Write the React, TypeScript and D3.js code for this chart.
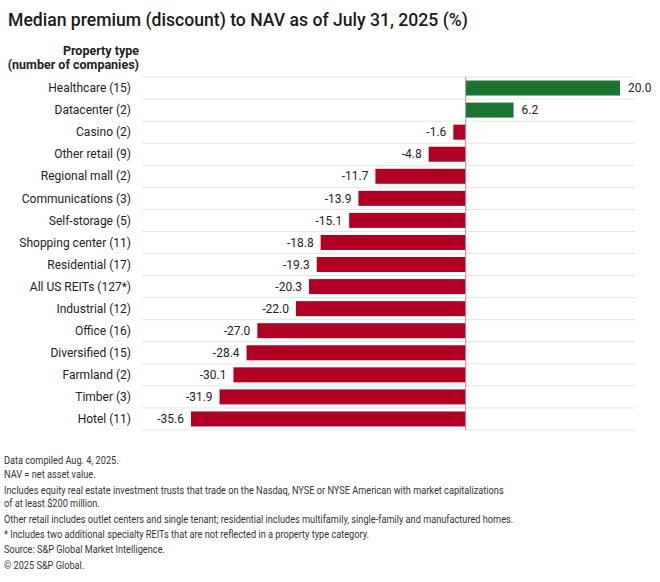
import * as d3 from 'd3';

const categories = [
  'Healthcare (15)', 'Datacenter (2)', 'Casino (2)', 'Other retail (9)', 'Regional mall (2)',
  'Communications (3)', 'Self-storage (5)', 'Shopping center (11)', 'Residential (17)',
  'All US REITs (127*)', 'Industrial (12)', 'Office (16)', 'Diversified (15)', 'Farmland (2)',
  'Timber (3)', 'Hotel (11)',
];
const values = [20.0, 6.2, -1.6, -4.8, -11.7, -13.9, -15.1, -18.8, -19.3, -20.3, -22.0, -27.0, -28.4, -30.1, -31.9, -35.6];

const notes = [
  'Data compiled Aug. 4, 2025.',
  'NAV = net asset value.',
  'Includes equity real estate investment trusts that trade on the Nasdaq, NYSE or NYSE American with market capitalizations',
  'of at least $200 million.',
  'Other retail includes outlet centers and single tenant; residential includes multifamily, single-family and manufactured homes.',
  '* Includes two additional specialty REITs that are not reflected in a property type category.',
  'Source: S&P Global Market Intelligence.',
  '\u00a9 2025 S&P Global.',
];
const noteY = [464, 478, 494, 507, 523, 538, 553, 569];

const W = 660;
const H = 582;
const font = 'Roboto, "Liberation Sans", sans-serif';

export default function App() {
  const left = 142, right = 635, top = 77, bottom = 430;
  const x = d3.scaleLinear().domain([-35.6, 20]).range([191, 620]);
  const y = d3.scaleBand<string>().domain(categories).range([top, bottom]).paddingInner(0.32).paddingOuter(0.16);
  const rows = d3.scaleBand<string>().domain(categories).range([top, bottom]);
  const fmt = (v: number) => d3.format('.1f')(v).replace('\u2212', '-');
  const squeeze = 0.8;

  return (
    <svg width={W} height={H} style={{ position: 'absolute', left: 0, top: 0, fontFamily: font }}>
      <rect width={W} height={H} fill="#fff" />
      <text x={8} y={26} fontSize={17.6} fontWeight={500} fill="#1a1a1a">
        Median premium (discount) to NAV as of July 31, 2025 (%)
      </text>
      <text x={139} y={55} textAnchor="end" fontSize={12.5} fontWeight={700} fill="#222">Property type</text>
      <text x={139} y={69} textAnchor="end" fontSize={12.5} fontWeight={700} fill="#222">(number of companies)</text>

      {categories.map((c, i) => (
        <line key={'g' + i} x1={left} x2={right} y1={rows(c)!} y2={rows(c)!} stroke="#e3e3e3" strokeWidth={1} />
      ))}
      <line x1={left} x2={right} y1={bottom} y2={bottom} stroke="#e3e3e3" strokeWidth={1} />

      {categories.map((c, i) => {
        const v = values[i];
        const x0 = x(Math.min(0, v));
        const w = Math.abs(x(v) - x(0));
        const cy = y(c)! + y.bandwidth() / 2;
        return (
          <g key={c}>
            <rect x={x0} y={y(c)} width={w} height={y.bandwidth()}
              fill={v >= 0 ? '#1b7530' : '#b10024'} />
            <text x={131} y={cy} dy="0.35em" textAnchor="end" fontSize={12} fill="#222">{c}</text>
            <text x={v >= 0 ? x(v) + 8 : x(v) - 7} y={cy} dy="0.35em"
              textAnchor={v >= 0 ? 'start' : 'end'} fontSize={12} fill="#222">{fmt(v)}</text>
          </g>
        );
      })}

      <line x1={x(0)} x2={x(0)} y1={top} y2={bottom} stroke="#999" strokeWidth={1} />

      <g transform={`scale(${squeeze},1)`}>
        {notes.map((n, i) => (
          <text key={'n' + i} x={4 / squeeze} y={noteY[i]} fontSize={11.5} fill="#333">{n}</text>
        ))}
      </g>
    </svg>
  );
}
